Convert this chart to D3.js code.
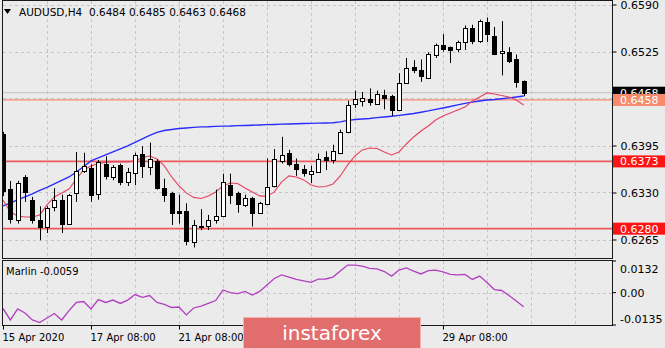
<!DOCTYPE html>
<html>
<head>
<meta charset="utf-8">
<script src="https://cdn.jsdelivr.net/npm/d3@7"></script>
<style>
  html, body { margin: 0; padding: 0; background: #ebebeb; }
  svg { display: block; }
  text { font-family: "DejaVu Sans", sans-serif; }
</style>
</head>
<body>
<svg id="chart" width="665" height="348"></svg>
<script>
// AUDUSD H4 candles, 15 Apr 2020 08:00 .. 1 May 2020 04:00
const opens  = [0.6411,0.6335,0.6292,0.6351,0.6319,0.6292,0.6282,0.6310,0.6320,0.6287,
                0.6329,0.6360,0.6364,0.6328,0.6370,0.6352,0.6368,0.6345,0.6357,0.6383,
                0.6365,0.6374,0.6336,0.6329,0.6304,0.6304,0.6262,0.6283,0.6283,0.6292,
                0.6297,0.6341,0.6329,0.6313,0.6322,0.6302,0.6314,0.6339,0.6374,0.6384,
                0.6370,0.6362,0.6356,0.6359,0.6379,0.6375,0.6384,0.6413,0.6452,0.6457,
                0.6459,0.6453,0.6465,0.6463,0.6444,0.6481,0.6503,0.6499,0.6489,0.6520,
                0.6534,0.6531,0.6529,0.6538,0.6558,0.6539,0.6566,0.6547,0.6523,0.6525,
                0.6515,0.6484];
const highs  = [0.6414,0.6346,0.6346,0.6354,0.6324,0.6311,0.6311,0.6336,0.6327,0.6328,
                0.6386,0.6385,0.6369,0.6375,0.6380,0.6368,0.6370,0.6364,0.6385,0.6394,
                0.6399,0.6376,0.6349,0.6331,0.6327,0.6315,0.6292,0.6307,0.6299,0.6334,
                0.6356,0.6356,0.6331,0.6327,0.6324,0.6317,0.6377,0.6390,0.6407,0.6389,
                0.6377,0.6368,0.6367,0.6384,0.6387,0.6396,0.6417,0.6457,0.6471,0.6469,
                0.6474,0.6471,0.6472,0.6465,0.6495,0.6516,0.6513,0.6514,0.6524,0.6536,
                0.6549,0.6532,0.6540,0.6561,0.6562,0.6569,0.6572,0.6559,0.6567,0.6531,
                0.6521,0.6485];
const lows   = [0.6325,0.6287,0.6287,0.6317,0.6287,0.6264,0.6274,0.6304,0.6274,0.6285,
                0.6317,0.6357,0.6317,0.6320,0.6348,0.6347,0.6340,0.6339,0.6340,0.6350,
                0.6354,0.6334,0.6317,0.6285,0.6287,0.6257,0.6254,0.6278,0.6278,0.6287,
                0.6296,0.6314,0.6302,0.6310,0.6283,0.6301,0.6313,0.6337,0.6370,0.6366,
                0.6353,0.6352,0.6343,0.6357,0.6361,0.6370,0.6383,0.6412,0.6447,0.6449,
                0.6450,0.6451,0.6445,0.6436,0.6443,0.6480,0.6495,0.6483,0.6488,0.6516,
                0.6525,0.6509,0.6524,0.6527,0.6535,0.6537,0.6538,0.6520,0.6492,0.6509,
                0.6475,0.6463];
const closes = [0.6332,0.6293,0.6343,0.6331,0.6292,0.6282,0.6308,0.6320,0.6287,0.6327,
                0.6360,0.6366,0.6327,0.6372,0.6353,0.6365,0.6345,0.6359,0.6382,0.6366,
                0.6376,0.6336,0.6327,0.6302,0.6301,0.6263,0.6285,0.6282,0.6292,0.6297,
                0.6345,0.6327,0.6314,0.6322,0.6301,0.6315,0.6338,0.6376,0.6382,0.6370,
                0.6363,0.6357,0.6360,0.6377,0.6375,0.6387,0.6414,0.6451,0.6459,0.6461,
                0.6455,0.6466,0.6461,0.6444,0.6482,0.6502,0.6499,0.6491,0.6522,0.6534,
                0.6528,0.6527,0.6538,0.6558,0.6540,0.6567,0.6549,0.6521,0.6526,0.6512,
                0.6483,0.6468];

// slow moving average (blue)
const slowMA = [0.63114,0.63156,0.63197,0.63239,0.63280,0.63328,0.63370,0.63418,0.63467,0.63515,
                0.63584,0.63660,0.63736,0.63778,0.63819,0.63861,0.63902,0.63944,0.63992,0.64041,
                0.64089,0.64131,0.64158,0.64172,0.64186,0.64193,0.64200,0.64207,0.64209,0.64214,
                0.64218,0.64220,0.64225,0.64227,0.64231,0.64234,0.64238,0.64241,0.64245,0.64248,
                0.64251,0.64254,0.64256,0.64259,0.64262,0.64265,0.64276,0.64297,0.64310,0.64317,
                0.64324,0.64335,0.64345,0.64355,0.64366,0.64379,0.64393,0.64410,0.64428,0.64449,
                0.64469,0.64490,0.64511,0.64532,0.64550,0.64566,0.64580,0.64587,0.64597,0.64608,
                0.64621,0.64635];
// fast moving average (red)
const fastMA = [0.63197,0.63031,0.62976,0.62962,0.62962,0.62990,0.63128,0.63239,0.63294,0.63349,
                0.63487,0.63612,0.63667,0.63702,0.63716,0.63723,0.63723,0.63723,0.63736,0.63785,
                0.63805,0.63764,0.63667,0.63515,0.63391,0.63294,0.63232,0.63218,0.63253,0.63308,
                0.63391,0.63432,0.63425,0.63363,0.63308,0.63253,0.63246,0.63308,0.63446,0.63529,
                0.63515,0.63474,0.63405,0.63377,0.63384,0.63418,0.63529,0.63681,0.63805,0.63889,
                0.63916,0.63909,0.63861,0.63819,0.63861,0.63971,0.64068,0.64151,0.64220,0.64303,
                0.64359,0.64400,0.64442,0.64483,0.64566,0.64621,0.64677,0.64663,0.64642,0.64621,
                0.64580,0.64511];
// Marlin oscillator
const marlin = [-0.0066,-0.0114,-0.0068,-0.0085,-0.0114,-0.0125,-0.0106,-0.0087,-0.0114,-0.0075,
                -0.0041,-0.0037,-0.0068,-0.0029,-0.0041,-0.0031,-0.0045,-0.0031,-0.0008,-0.0020,
                -0.0012,-0.0041,-0.0049,-0.0062,-0.0060,-0.0093,-0.0064,-0.0056,-0.0045,-0.0033,
                 0.0011, 0.0000,-0.0004, 0.0005,-0.0010, 0.0005, 0.0032, 0.0059, 0.0074, 0.0065,
                 0.0055, 0.0049, 0.0043, 0.0056, 0.0057, 0.0065, 0.0090, 0.0115, 0.0115, 0.0111,
                 0.0101, 0.0099, 0.0088, 0.0069, 0.0094, 0.0103, 0.0090, 0.0078, 0.0092, 0.0094,
                 0.0087, 0.0076, 0.0074, 0.0076, 0.0055, 0.0069, 0.0042, 0.0013, 0.0009,-0.0012,
                -0.0035,-0.0059];

const priceGrid = [0.6590, 0.6525, 0.6460, 0.6395, 0.6330, 0.6265];
const priceTicks = [0.6590, 0.6525, 0.6395, 0.6330, 0.6265];
const marlinTicks = [0.0132, 0.00, -0.0135];
const marlinTickLabels = ["0.0132", "0.00", "-0.0135"];
const timeTickIndex = [0, 12, 24, 60];
const timeTickLabels = ["15 Apr 2020", "17 Apr 08:00", "21 Apr 08:00", "29 Apr 08:00"];
const resistancePrice = 0.6458;
const levelPrices = [0.6373, 0.6280];
const bidPrice = 0.6468;

const fmt4 = v => d3.format(".4f")(v).replace("\u2212", "-");

const svg = d3.select("#chart");
const main = { left: 3, right: 612, top: 1, bottom: 258 };
const sub = { top: 261, bottom: 325 };
const step = 7.333;

const x = d3.scaleLinear().domain([0, 83]).range([3, 3 + 83 * step]);
const y = d3.scaleLinear().domain([0.6265, 0.6590]).range([239.5, 4.5]);
const yM = d3.scaleLinear().domain([-0.0135, 0.0132]).range([sub.bottom, sub.top]);
const px = i => Math.round(x(i));

svg.append("rect").attr("width", 665).attr("height", 348).attr("fill", "#ebebeb");

const defs = svg.append("defs");
defs.append("clipPath").attr("id", "clipMain").append("rect")
  .attr("x", main.left).attr("y", main.top).attr("width", main.right - main.left).attr("height", main.bottom - main.top);
defs.append("clipPath").attr("id", "clipSub").append("rect")
  .attr("x", main.left).attr("y", sub.top).attr("width", main.right - main.left).attr("height", sub.bottom - sub.top);

// grid
const grid = svg.append("g").attr("stroke", "#c6c6c6").attr("stroke-dasharray", "3,3").attr("stroke-width", 1);
grid.selectAll(".hg").data(priceGrid).join("line")
  .attr("x1", main.left).attr("x2", main.right)
  .attr("y1", d => Math.round(y(d)) + 0.5).attr("y2", d => Math.round(y(d)) + 0.5);
const vIdx = d3.range(6, 83, 6);
grid.selectAll(".vg").data(vIdx).join("line")
  .attr("x1", d => px(d) + 0.5).attr("x2", d => px(d) + 0.5)
  .attr("y1", main.top).attr("y2", main.bottom);
grid.selectAll(".vg2").data(vIdx).join("line")
  .attr("x1", d => px(d) + 0.5).attr("x2", d => px(d) + 0.5)
  .attr("y1", sub.top).attr("y2", sub.bottom);
grid.append("line").attr("x1", main.left).attr("x2", main.right)
  .attr("y1", Math.round(yM(0)) + 0.5).attr("y2", Math.round(yM(0)) + 0.5);

const gMain = svg.append("g").attr("clip-path", "url(#clipMain)");

// horizontal levels
gMain.append("line").attr("x1", 0).attr("x2", main.right)
  .attr("y1", y(bidPrice)).attr("y2", y(bidPrice))
  .attr("stroke", "#c0c0c0").attr("stroke-width", 1);
gMain.append("line").attr("x1", 0).attr("x2", main.right)
  .attr("y1", y(resistancePrice)).attr("y2", y(resistancePrice))
  .attr("stroke", "#f58a74").attr("stroke-width", 1.3);
gMain.selectAll(".lvl").data(levelPrices).join("line")
  .attr("x1", 0).attr("x2", main.right)
  .attr("y1", d => y(d)).attr("y2", d => y(d))
  .attr("stroke", "#ee5a5a").attr("stroke-width", 1.8);

// moving averages
const idx = d3.range(opens.length);
gMain.append("path").datum(slowMA)
  .attr("d", d3.line().x((d, i) => x(i)).y(d => y(d)))
  .attr("fill", "none").attr("stroke", "#2b2bff").attr("stroke-width", 1.4);
gMain.append("path").datum(fastMA)
  .attr("d", d3.line().x((d, i) => x(i)).y(d => y(d)))
  .attr("fill", "none").attr("stroke", "#e8415f").attr("stroke-width", 1.1);

// candles
const candles = gMain.selectAll(".candle").data(idx).join("g");
candles.append("line")
  .attr("x1", i => px(i) + 0.5).attr("x2", i => px(i) + 0.5)
  .attr("y1", i => y(highs[i])).attr("y2", i => y(lows[i]))
  .attr("stroke", "#000").attr("stroke-width", 1);
candles.append("rect")
  .attr("x", i => px(i) - 1.5)
  .attr("width", 4)
  .attr("y", i => Math.round(y(Math.max(opens[i], closes[i]))) + 0.5)
  .attr("height", i => Math.max(1, Math.round(y(Math.min(opens[i], closes[i]))) - Math.round(y(Math.max(opens[i], closes[i])))))
  .attr("fill", i => closes[i] >= opens[i] ? "#ffffff" : "#000000")
  .attr("stroke", "#000").attr("stroke-width", 1);

// Marlin oscillator
svg.append("g").attr("clip-path", "url(#clipSub)")
  .append("path").datum(marlin)
  .attr("d", d3.line().x((d, i) => x(i)).y(d => yM(d)))
  .attr("fill", "none").attr("stroke", "#b13fc0").attr("stroke-width", 1.3);

// frames
svg.append("rect").attr("x", main.left - 0.5).attr("y", main.top - 0.5)
  .attr("width", main.right - main.left + 1).attr("height", main.bottom - main.top + 1)
  .attr("fill", "none").attr("stroke", "#1a1a1a");
svg.append("rect").attr("x", main.left - 0.5).attr("y", sub.top - 0.5)
  .attr("width", main.right - main.left + 1).attr("height", sub.bottom - sub.top + 1)
  .attr("fill", "none").attr("stroke", "#1a1a1a");

// price axis
const priceAxis = svg.append("g").attr("transform", `translate(${main.right + 0.5},0)`)
  .call(d3.axisRight(y).tickValues(priceTicks).tickFormat(fmt4).tickSize(4).tickPadding(4));
priceAxis.select(".domain").remove();
priceAxis.selectAll("text").attr("font-size", 11).attr("fill", "#000").attr("font-family", "DejaVu Sans");
priceAxis.selectAll("line").attr("stroke", "#000");

// price markers on the axis
function marker(price, fill) {
  const g = svg.append("g");
  const cy = y(price);
  g.append("rect").attr("x", main.right + 1).attr("y", cy - 6).attr("width", 60).attr("height", 12).attr("fill", fill);
  g.append("text").attr("x", main.right + 8).attr("y", cy).attr("dy", "0.36em")
    .attr("font-size", 11).attr("fill", "#fff").text(fmt4(price));
}
marker(bidPrice, "#000000");
marker(resistancePrice, "#f58a6c");
levelPrices.forEach(p => marker(p, "#ff1414"));

// Marlin axis labels
const mAxis = svg.append("g");
mAxis.selectAll("line").data(marlinTicks).join("line")
  .attr("x1", main.right).attr("x2", main.right + 4)
  .attr("y1", d => yM(d)).attr("y2", d => yM(d)).attr("stroke", "#000");
mAxis.selectAll("text").data(marlinTicks).join("text")
  .attr("x", main.right + 8)
  .attr("y", (d, i) => yM(d) + (i === 0 ? 8 : i === 2 ? -6 : 0))
  .attr("dy", "0.36em").attr("font-size", 11).attr("fill", "#000")
  .text((d, i) => marlinTickLabels[i]);

// time axis
const timeAxis = svg.append("g").attr("transform", `translate(0,${sub.bottom + 0.5})`)
  .call(d3.axisBottom(x).tickValues(timeTickIndex).tickFormat((d, i) => timeTickLabels[i]).tickSize(4).tickPadding(4));
timeAxis.select(".domain").remove();
timeAxis.selectAll("line").attr("stroke", "#000");
timeAxis.selectAll("text").attr("font-size", 10).attr("fill", "#000").attr("font-family", "DejaVu Sans")
  .attr("text-anchor", "start").attr("dx", "-1");

// header texts
svg.append("path").attr("d", "M4,9 L11,9 L7.5,14 Z").attr("fill", "#000");
svg.append("text").attr("x", 19).attr("y", 12).attr("dy", "0.36em").attr("font-size", 10.5).attr("fill", "#000")
  .attr("xml:space", "preserve")
  .text("AUDUSD,H4  " + [opens[71], highs[71], lows[71], closes[71]].map(fmt4).join(" "));
svg.append("text").attr("x", 6).attr("y", 271).attr("dy", "0.36em").attr("font-size", 10).attr("fill", "#000")
  .text("Marlin " + fmt4(marlin[marlin.length - 1]));

// watermark
svg.append("rect").attr("x", 243.5).attr("y", 317.5).attr("width", 177).attr("height", 40)
  .attr("fill", "#e26d6d").attr("stroke", "#f3b0ad").attr("stroke-width", 1);
svg.append("text").attr("x", 332).attr("y", 340).attr("text-anchor", "middle")
  .attr("font-family", "Roboto, sans-serif").attr("font-size", 20).attr("fill", "#fff")
  .text("instaforex");
</script>
</body>
</html>
